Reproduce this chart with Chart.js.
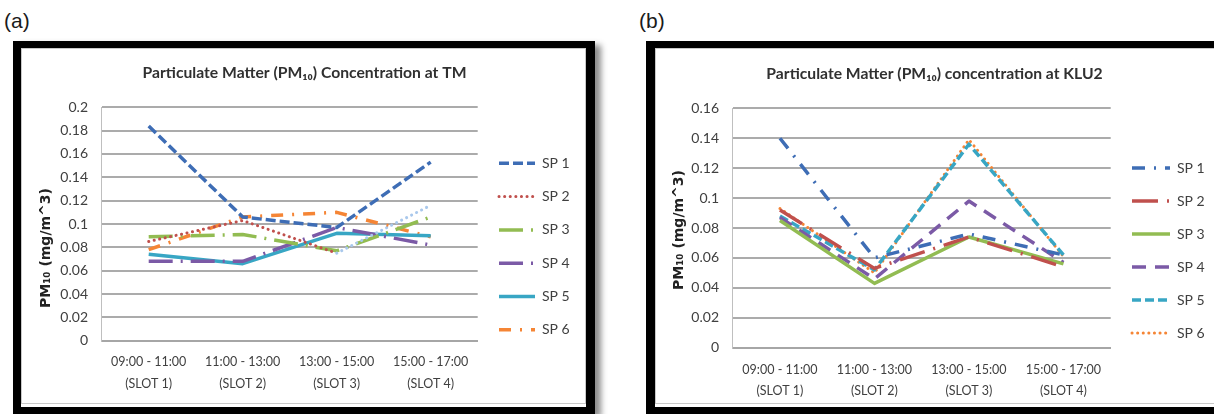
<!DOCTYPE html>
<html><head><meta charset="utf-8">
<script src="https://cdn.jsdelivr.net/npm/chart.js@4.4.1/dist/chart.umd.min.js"></script>
<style>
html,body{margin:0;padding:0;background:#fff;width:1214px;height:414px;overflow:hidden;position:relative;font-family:"Liberation Sans",Arial,sans-serif;}
.lbl{position:absolute;font-size:21px;color:#1a1a1a;line-height:1;}
.frame{position:absolute;box-sizing:border-box;border:solid #000;background:#fff;}
.inner{position:absolute;box-sizing:border-box;border:1px solid #c9c9c9;}
canvas{position:absolute;}
</style></head><body>
<div class="lbl" style="left:4px;top:10px">(a)</div>
<div class="lbl" style="left:639px;top:10px">(b)</div>
<div class="frame" style="left:13px;top:41px;width:582px;height:373px;border-width:7px 9px 7px 8px;box-shadow:6px 4px 6px rgba(0,0,0,0.45);"></div>
<div class="inner" style="left:21px;top:48px;width:565px;height:356px;"></div>
<div class="frame" style="left:646px;top:41px;width:600px;height:373px;border-width:7px 0 7px 9px;"></div>
<div class="inner" style="left:655px;top:48px;width:600px;height:356px;"></div>
<canvas id="ca" width="567" height="359" style="left:21px;top:48px"></canvas>
<canvas id="cb" width="559" height="359" style="left:655px;top:48px"></canvas>
<script>
// ---- data ----
const categories = [['09:00 - 11:00','(SLOT 1)'],['11:00 - 13:00','(SLOT 2)'],['13:00 - 15:00','(SLOT 3)'],['15:00 - 17:00','(SLOT 4)']];
const seriesNames = ['SP 1','SP 2','SP 3','SP 4','SP 5','SP 6'];

const tmSP1 = [0.184, 0.106, 0.097, 0.153];
const tmSP2 = [0.085, 0.103, 0.075, 0.116];
const tmSP3 = [0.089, 0.091, 0.077, 0.106];
const tmSP4 = [0.068, 0.068, 0.097, 0.082];
const tmSP5 = [0.074, 0.066, 0.092, 0.090];
const tmSP6 = [0.078, 0.106, 0.110, 0.089];

const kluSP1 = [0.140, 0.060, 0.076, 0.062];
const kluSP2 = [0.092, 0.053, 0.074, 0.054];
const kluSP3 = [0.085, 0.043, 0.074, 0.056];
const kluSP4 = [0.087, 0.046, 0.098, 0.057];
const kluSP5 = [0.088, 0.052, 0.136, 0.062];
const kluSP6 = [0.093, 0.050, 0.139, 0.061];

const yTickLabelsTM = ['0','0.02','0.04','0.06','0.08','0.1','0.12','0.14','0.16','0.18','0.2'];
const yTickLabelsKLU = ['0','0.02','0.04','0.06','0.08','0.1','0.12','0.14','0.16'];
const titleTM = 'Particulate Matter (PM\u2081\u2080) Concentration at TM';
const titleKLU = 'Particulate Matter (PM\u2081\u2080) concentration at KLU2';
const yAxisTitle = 'PM\u2081\u2080 (mg/m^3)';

// ---- styles ----
const FONT = 'Lato, "Noto Sans", "DejaVu Sans", sans-serif';
const C = {blue:'#3E6DB5', red:'#C0504D', green:'#92BC52', purple:'#7B5AA6', teal:'#38A6C4', orange:'#F58535', lightBlue:'#A9C8EC'};

const stylesTM = [
  {borderColor:C.blue, borderWidth:3.5, borderDash:[10,4]},
  {borderColor:C.red, borderWidth:3, borderDash:[0.1,5.5], borderCapStyle:'round',
   segment:{borderColor: c => c.p1DataIndex === 3 ? C.lightBlue : undefined}},
  {borderColor:C.green, borderWidth:3.5, borderDash:[24,8,2,8]},
  {borderColor:C.purple, borderWidth:3.5, borderDash:[24,8,2,8]},
  {borderColor:C.teal, borderWidth:3.5, borderDash:[]},
  {borderColor:C.orange, borderWidth:3.5, borderDash:[12,9,2,9]}
];
const stylesKLU = [
  {borderColor:C.blue, borderWidth:3.5, borderDash:[13,9,2,9]},
  {borderColor:C.red, borderWidth:3.5, borderDash:[26,9,2,9]},
  {borderColor:C.green, borderWidth:3.5, borderDash:[]},
  {borderColor:C.purple, borderWidth:3.5, borderDash:[14,9]},
  {borderColor:C.teal, borderWidth:3.5, borderDash:[9,4]},
  {borderColor:C.orange, borderWidth:3, borderDash:[0.1,5.5], borderCapStyle:'round'}
];

function build(id, values, styles, o) {
  const datasets = values.map((v, i) => Object.assign({
    label: seriesNames[i], data: v, fill: false, tension: 0,
    pointRadius: 0, pointHoverRadius: 0, borderJoinStyle: 'round'
  }, styles[i]));
  const placeLegend = {
    id: 'placeLegend',
    beforeLayout(chart) {
      const lg = chart.legend;
      if (lg && !lg._fixedFit) {
        const f = lg.fit.bind(lg);
        lg.fit = function () { f(); this.width = o.legendBoxW; };
        lg._fixedFit = true;
      }
    },
    afterLayout(chart) {
      const lg = chart.legend;
      const pad = lg.options.labels.padding, fs = lg.options.labels.font.size;
      const w = lg.width, h = lg.height;
      lg.left = o.legendX - pad; lg.right = lg.left + w;
      lg.top = o.legendY - pad - fs / 2; lg.bottom = lg.top + h;
      const ys = chart.scales.y;
      if (ys && !ys._shiftedTitle) {
        const dt = ys.drawTitle;
        ys.drawTitle = function () {
          this.ctx.save(); this.ctx.translate(0, o.yTitleShift); dt.call(this); this.ctx.restore();
        };
        ys._shiftedTitle = true;
      }
    }
  };
  return new Chart(document.getElementById(id), {
    type: 'line',
    data: {labels: categories, datasets},
    options: {
      responsive: false, animation: false, events: [],
      layout: {padding: 0},
      plugins: {
        title: {display: true, text: o.title, color: '#303030',
          font: {family: FONT, size: 15.7, weight: 'bold', lineHeight: 1.2},
          padding: {top: o.titleTop, bottom: o.titleBottom}},
        legend: {display: true, position: 'right', align: 'start',
          labels: {usePointStyle: true, pointStyle: 'line', pointStyleWidth: o.legendW, boxHeight: 14,
            padding: o.legendPad, color: '#404040', font: {family: FONT, size: 14},
            generateLabels(chart) {
              return chart.data.datasets.map((ds, i) => ({
                text: ds.label, fillStyle: ds.borderColor, strokeStyle: ds.borderColor,
                lineWidth: ds.borderWidth, lineDash: ds.borderDash || [], lineDashOffset: 0,
                lineCap: ds.borderCapStyle || 'butt', lineJoin: 'miter', pointStyle: 'line',
                rotation: 180, fontColor: '#404040', hidden: false, datasetIndex: i
              }));
            }}},
        tooltip: {enabled: false}
      },
      scales: {
        x: {
          offset: true,
          grid: {display: false, drawTicks: false, offset: true},
          border: {display: true, color: '#A6A6A6', width: 2},
          ticks: {color: '#404040', padding: o.xPad, maxRotation: 0, autoSkip: false,
            font: {family: FONT, size: 12.5, lineHeight: 1.7}},
          afterFit(s) { s.height = o.xH; }
        },
        y: {
          min: 0, max: o.yMax,
          grid: {color: '#ABABAB', lineWidth: 2, drawTicks: false},
          border: {display: true, color: '#BFBFBF', width: 1},
          ticks: {stepSize: 0.02, padding: o.yPad, color: '#404040', font: {family: FONT, size: 14},
            callback: (v) => o.yLabels[Math.round(v / 0.02)]},
          title: {display: true, text: yAxisTitle, color: '#222',
            font: {family: '"DejaVu Sans", sans-serif', size: 14, weight: 'bold', lineHeight: 1.2},
            padding: {top: o.yTitlePad, bottom: 0}},
          afterFit(s) { s.width = o.yW; }
        }
      }
    },
    plugins: [placeLegend]
  });
}

build('ca', [tmSP1, tmSP2, tmSP3, tmSP4, tmSP5, tmSP6], stylesTM, {
  title: titleTM, yMax: 0.2, yLabels: yTickLabelsTM,
  legendBoxW: 110.3, yW: 80.7, xH: 66.3, titleTop: 15.9, titleBottom: 24.56,
  legendX: 478, legendY: 115.3, legendPad: 19.3, legendW: 36,
  xPad: 11, yPad: 13.7, yTitlePad: 16.6, yTitleShift: 24
});
build('cb', [kluSP1, kluSP2, kluSP3, kluSP4, kluSP5, kluSP6], stylesKLU, {
  title: titleKLU, yMax: 0.16, yLabels: yTickLabelsKLU,
  legendBoxW: 103.3, yW: 77.7, xH: 59.3, titleTop: 16.6, titleBottom: 24.86,
  legendX: 477, legendY: 120, legendPad: 19, legendW: 38,
  xPad: 11.7, yPad: 13.7, yTitlePad: 16.1, yTitleShift: 2
});
</script>
</body></html>
